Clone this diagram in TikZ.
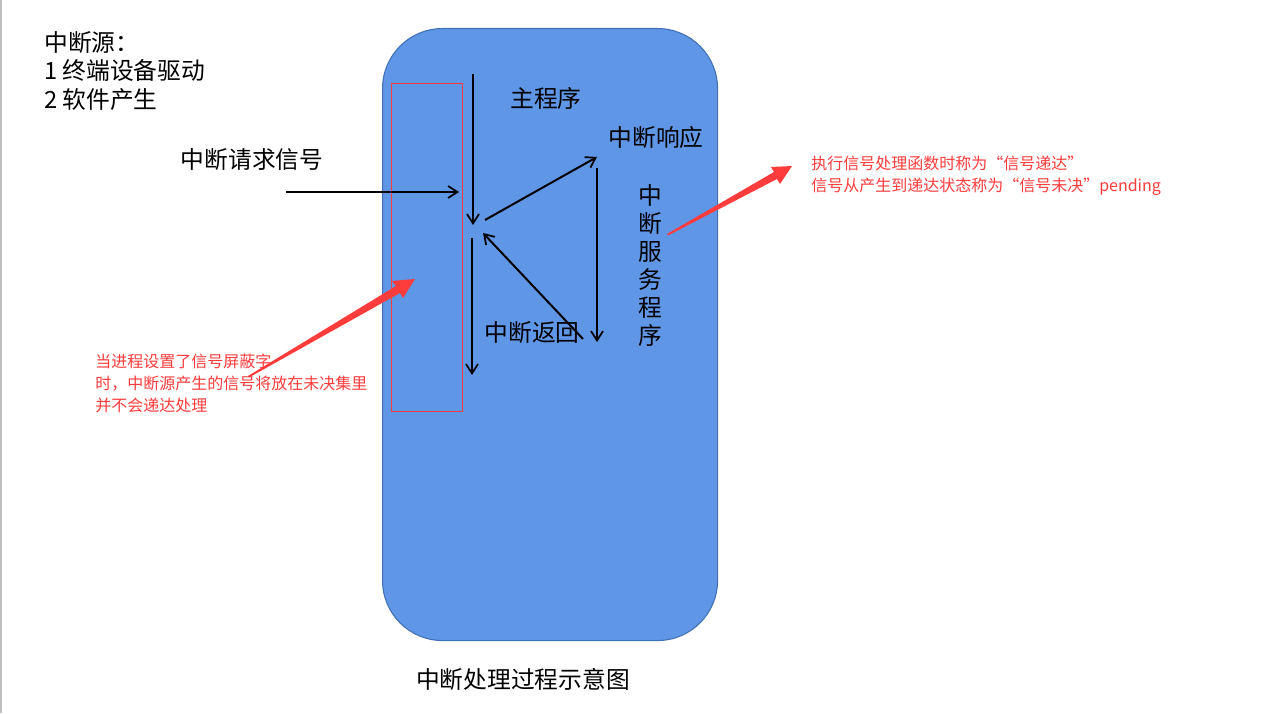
\documentclass[tikz,border=0pt]{standalone}
\usepackage{fontspec}
\setmainfont{Noto Sans CJK SC}
\usetikzlibrary{arrows.meta}
\definecolor{boxfill}{RGB}{96,150,230}
\definecolor{boxline}{RGB}{65,113,180}
\definecolor{redtxt}{RGB}{255,60,60}
\tikzset{
  lbl/.style={font=\fontsize{17.8pt}{21pt}\selectfont, inner sep=0pt, text=black},
  redlbl/.style={font=\fontsize{12pt}{16.5pt}\selectfont, inner sep=0pt, text=redtxt, align=left},
  flow/.style={draw=black, line width=1.5pt, -{Straight Barb[length=7pt,width=9pt,line width=1.3pt]}},
}
\begin{document}
\begin{tikzpicture}[x=0.75pt,y=-0.75pt]
\useasboundingbox (0,0) rectangle (1276,713);
\fill[white] (0,0) rectangle (1276,713);
\fill[gray!50] (0,0) rectangle (2,713);
% main rounded box
\node[draw=boxline, fill=boxfill, line width=0.8pt, rounded corners=45pt,
      minimum width=335*0.75pt, minimum height=612*0.75pt, inner sep=0pt, anchor=north west] (proc) at (382,28) {};
% mask rectangle
\node[draw=redtxt, line width=0.6pt, minimum width=71*0.75pt, minimum height=328*0.75pt, inner sep=0pt, anchor=north west] (mask) at (391,83) {};
% coordinates
\coordinate (m1s) at (473,74);
\coordinate (m1e) at (473,225);
\coordinate (m2s) at (472,238);
\coordinate (m2e) at (472,375);
\coordinate (reqs) at (286,192);
\coordinate (reqe) at (459,192);
\coordinate (d1s) at (485,220);
\coordinate (d1e) at (597,157);
\coordinate (vs) at (597,168);
\coordinate (ve) at (597,342);
\coordinate (d2s) at (583,339);
\coordinate (d2e) at (483,233);
\draw[flow] (m1s) -- (m1e);
\draw[flow] (m2s) -- (m2e);
\draw[flow] (reqs) -- (reqe);
\draw[flow] (d1s) -- (d1e);
\draw[flow] (vs) -- (ve);
\draw[flow] (d2s) -- (d2e);
% labels
\node[lbl] (main) at (546,98) {主程序};
\node[lbl] (resp) at (656,137) {中断响应};
\node[lbl, align=center] (isr) at (650,266) {中\\断\\服\\务\\程\\序};
\node[lbl] (ret) at (532,333) {中断返回};
\node[lbl] (req) at (252,160) {中断请求信号};
\node[lbl, align=left, anchor=north west, font=\fontsize{17.8pt}{21.5pt}\selectfont] (src) at (44,31) {中断源：\\1 终端设备驱动\\2 软件产生};
\node[lbl] (title) at (523,679) {中断处理过程示意图};
% red notes
\node[redlbl, anchor=north west] (noteR) at (811,156) {执行信号处理函数时称为“信号递达”\\信号从产生到递达状态称为“信号未决”pending};
\node[redlbl, anchor=north west] (noteL) at (95,354) {当进程设置了信号屏蔽字\\时，中断源产生的信号将放在未决集里\\并不会递达处理};
% red wedge arrows
\coordinate (rt) at (667,234);
\coordinate (rh) at (792,166);
\fill[redtxt] (667,234) -- (774,172) -- (771,167) -- (792,166) -- (780,184) -- (777,179) -- (668,235.5) -- cycle;
\coordinate (lt) at (248,376);
\coordinate (lh) at (415,279);
\fill[redtxt] (248,376) -- (396,286) -- (392,281) -- (415,279) -- (403,298) -- (400,293) -- (249,377.5) -- cycle;
\end{tikzpicture}
\end{document}
